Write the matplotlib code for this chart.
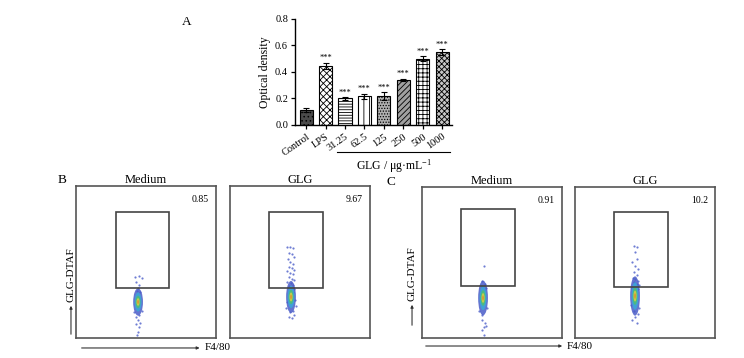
import matplotlib
matplotlib.use("Agg")
import matplotlib.pyplot as plt
from matplotlib.patches import Ellipse, Rectangle, FancyArrowPatch
import numpy as np

plt.rcParams["font.family"] = ["Liberation Serif", "DejaVu Serif"]
plt.rcParams["mathtext.fontset"] = "stix"
plt.rcParams["hatch.linewidth"] = 0.6

# ---- panel A data ----
groups = ["Control", "LPS", "31.25", "62.5", "125", "250", "500", "1000"]
od_mean = [0.115, 0.445, 0.200, 0.215, 0.215, 0.340, 0.500, 0.550]
od_err = [0.015, 0.025, 0.010, 0.020, 0.030, 0.010, 0.020, 0.020]
signif = ["", "***", "***", "***", "***", "***", "***", "***"]

# ---- panels B / C data (axes units 0-100) ----
panel_titles = ["Medium", "GLG", "Medium", "GLG"]
gate_pct = ["0.85", "9.67", "0.91", "10.2"]
gates = [(28.5, 66.4, 33, 83), (27.9, 66.4, 33, 83), (27.9, 66.4, 34.4, 85.4), (27.9, 66.4, 33.8, 83.4)]
core_x = [44.3, 43.6, 43.6, 42.9]
core_y = [23.7, 27.0, 26.5, 27.8]
core_h = [18, 21, 23, 26]

b1_dots_x = [42, 45, 47, 43, 45, 44, 43.5, 45.5, 44, 43, 45, 44.5, 43.5, 46, 42.5, 45, 41.5, 47]
b1_dots_y = [40, 40.5, 39.5, 37, 35, 33, 31, 30, 12, 9, 7, 4, 2, 10, 14, 15, 17, 18]
b2_dots_x = [41, 43, 45, 42, 44, 46, 41.5, 43, 45, 42, 44, 46, 41, 43, 45, 42, 44, 46, 41, 43.5, 45, 42, 44, 46, 43, 45,
             42, 44, 46, 43, 45, 40, 47, 40.5, 46.5]
b2_dots_y = [60, 60, 59, 56, 55, 53, 52, 50, 49, 47, 46, 45, 44, 43, 42, 40, 39, 38, 37, 36, 35, 34, 33, 32, 31, 30,
             14, 13, 15, 17, 18, 20, 21, 24, 25]
c1_dots_x = [44, 42.5, 45, 43, 44.5, 42, 46, 43, 45, 44, 42.5, 44, 46, 43, 41, 46.5]
c1_dots_y = [48, 38, 36, 34, 32, 31, 33, 12, 10, 7, 5, 2, 8, 15, 18, 20]
c2_dots_x = [42, 44, 43, 44.5, 41, 43, 45, 42, 44, 41.5, 43, 45, 42, 44, 46, 43, 41, 45, 42, 41, 43, 45, 42, 44,
             40, 46]
c2_dots_y = [61, 60.5, 57, 52, 50, 48, 46, 44, 42, 40, 39, 38, 37, 36, 35, 34, 33, 32.5, 31.5, 12, 14, 16, 18, 10,
             22, 20]
dots_x = [b1_dots_x, b2_dots_x, c1_dots_x, c2_dots_x]
dots_y = [b1_dots_y, b2_dots_y, c1_dots_y, c2_dots_y]

fig = plt.figure(figsize=(7.44, 3.58), dpi=100)

# ===== Panel A: bar chart =====
ax = fig.add_axes([0.3965, 0.651, 0.211, 0.296])
x = np.arange(len(groups))
faces = ["#4a4a4a", "white", "white", "white", "#b0b0b0", "#a0a0a0", "white", "#c8c8c8"]
hatches = ["....", "xxxxx", "------", "|||", "......", "//////", "++++", "xxxxxx"]
bars = ax.bar(x, od_mean, width=0.67, color=faces, edgecolor="black", linewidth=0.8,
              yerr=od_err, error_kw=dict(ecolor="black", elinewidth=0.8, capsize=2, capthick=0.8))
for b, h in zip(bars, hatches):
    b.set_hatch(h)
for xi, m, e, s in zip(x, od_mean, od_err, signif):
    if s:
        ax.text(xi, m + e + 0.005, s, ha="center", va="bottom", fontsize=6)
ax.set_xlim(-0.57, 7.5)
ax.set_ylim(0, 0.8)
ax.set_yticks([0, 0.2, 0.4, 0.6, 0.8])
ax.set_yticklabels(["0.0", "0.2", "0.4", "0.6", "0.8"], fontsize=7.5)
ax.set_xticks(x)
ax.set_xticklabels(groups, fontsize=7.5, rotation=35, ha="right", va="top", rotation_mode="anchor")
ax.tick_params(length=3, width=0.9, pad=2)
ax.spines["top"].set_visible(False)
ax.spines["right"].set_visible(False)
ax.spines["left"].set_linewidth(1.0)
ax.spines["bottom"].set_linewidth(1.0)
ax.set_ylabel("Optical density", fontsize=8.5, labelpad=3)
ax.plot([1.6, 7.4], [-0.205, -0.205], color="black", lw=0.8, clip_on=False)
ax.text(4.5, -0.245, r"GLG / μg·mL$^{\mathregular{-1}}$", ha="center", va="top", fontsize=8.5)
fig.text(0.2513, 0.938, "A", fontsize=9.5, ha="center", va="center")

# ===== Panels B / C: flow plots =====
positions = [[0.1022, 0.0559, 0.1882, 0.4246], [0.3091, 0.0559, 0.1882, 0.4246],
             [0.5672, 0.0559, 0.1882, 0.4218], [0.7728, 0.0559, 0.1882, 0.4218]]
layer_w = [7.0, 5.0, 3.4, 2.2, 1.2]
layer_h = [1.0, 0.7, 0.45, 0.28, 0.14]
layer_c = ["#4a5cc8", "#3aa8d8", "#4fc070", "#d8d040", "#e08a30"]

for i, pos in enumerate(positions):
    fa = fig.add_axes(pos)
    fa.set_xlim(0, 100)
    fa.set_ylim(0, 100)
    fa.set_xticks([])
    fa.set_yticks([])
    for sp in fa.spines.values():
        sp.set_color("#555555")
        sp.set_linewidth(1.2)
    fa.scatter(dots_x[i], dots_y[i], s=2.5, color="#4a5cc8", alpha=0.8, linewidths=0)
    for w, h, c in zip(layer_w, layer_h, layer_c):
        fa.add_patch(Ellipse((core_x[i], core_y[i]), w, core_h[i] * h, color=c, alpha=0.85, lw=0))
    g = gates[i]
    fa.add_patch(Rectangle((g[0], g[2]), g[1] - g[0], g[3] - g[2], fill=False,
                           edgecolor="#444444", linewidth=1.2))
    fa.text(0.95, 0.91, gate_pct[i], transform=fa.transAxes, ha="right", va="center", fontsize=7)
    fa.set_title(panel_titles[i], fontsize=9, pad=2)

fig.text(0.0833, 0.497, "B", fontsize=9.5, ha="center", va="center")
fig.text(0.526, 0.492, "C", fontsize=9.5, ha="center", va="center")

arrow = dict(arrowstyle="-|>", color="#333333", lw=0.8, mutation_scale=4)
# B arrows
fig.add_artist(FancyArrowPatch((0.0954, 0.0587), (0.0954, 0.1536), transform=fig.transFigure, **arrow))
fig.text(0.0954, 0.156, "GLG-DTAF", rotation=90, ha="center", va="bottom", fontsize=8)
fig.add_artist(FancyArrowPatch((0.106, 0.028), (0.272, 0.028), transform=fig.transFigure, **arrow))
fig.text(0.2745, 0.028, "F4/80", ha="left", va="center", fontsize=8)
# C arrows
fig.add_artist(FancyArrowPatch((0.5538, 0.0838), (0.5538, 0.1564), transform=fig.transFigure, **arrow))
fig.text(0.5538, 0.159, "GLG-DTAF", rotation=90, ha="center", va="bottom", fontsize=8)
fig.add_artist(FancyArrowPatch((0.5685, 0.0335), (0.7594, 0.0335), transform=fig.transFigure, **arrow))
fig.text(0.762, 0.0335, "F4/80", ha="left", va="center", fontsize=8)

fig.savefig("out.png", dpi=100)
